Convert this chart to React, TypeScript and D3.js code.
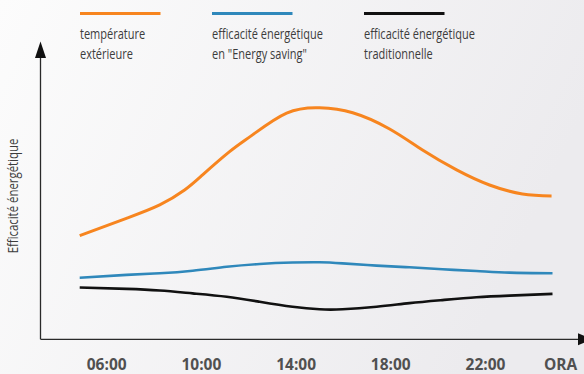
import React from "react";
import * as d3 from "d3";

const W = 584;
const H = 374;

const tickHours = [6, 10, 14, 18, 22];
const tickLabels = ["06:00", "10:00", "14:00", "18:00", "22:00"];
const axisTitleX = "ORA";
const axisTitleY = "Efficacité énergétique";

const tempHours = [4.86, 6.83, 8.24, 9.29, 10.05, 11.19, 12.16, 13.6, 14.99, 16.39, 17.95, 19.34, 20.78, 22.17, 23.56, 24.79];
const tempValues = [36.9, 43.1, 47.9, 53.2, 58.6, 66.9, 72.9, 80.7, 82.6, 80.8, 75.0, 67.5, 60.4, 55.0, 51.8, 51.1];

const effHours = [4.86, 6.84, 8.24, 9.63, 11.07, 12.46, 13.85, 14.99, 15.96, 17.4, 18.79, 20.18, 21.62, 23.01, 24.83];
const savingValues = [21.9, 22.9, 23.5, 24.4, 25.8, 26.8, 27.3, 27.4, 27.0, 26.2, 25.6, 24.9, 24.3, 23.7, 23.5];
const traditionalValues = [18.4, 17.9, 17.3, 16.3, 15.1, 13.3, 11.5, 10.6, 10.6, 11.5, 12.8, 13.9, 14.9, 15.5, 16.1];

const seriesNames = [
  ["température", "extérieure"],
  ["efficacité énergétique", "en \"Energy saving\""],
  ["efficacité énergétique", "traditionnelle"],
];
const seriesColors = ["#f7851f", "#2f88bb", "#111111"];

const font = "'Open Sans', sans-serif";

export default function App() {
  const x = d3.scaleLinear().domain([6, 22]).range([106.7, 485.5]);
  const y = d3.scaleLinear().domain([0, 100]).range([339, 59]);
  const axisX0 = 40.5;
  const axisY0 = 339.3;

  const line = d3
    .line<[number, number]>()
    .x((d) => x(d[0]))
    .y((d) => y(d[1]))
    .curve(d3.curveNatural);

  const series = [
    tempHours.map((h, i) => [h, tempValues[i]] as [number, number]),
    effHours.map((h, i) => [h, savingValues[i]] as [number, number]),
    effHours.map((h, i) => [h, traditionalValues[i]] as [number, number]),
  ];
  const widths = [3, 2.6, 2.6];
  const legendX = [80, 212, 364];
  const sx = 0.76;

  return (
    <svg width={W} height={H} style={{ position: "absolute", left: 0, top: 0, display: "block" }}>
      <defs>
        <linearGradient id="bg" x1="0" y1="0" x2="1" y2="0.3">
          <stop offset="0" stopColor="#fcfcfc" />
          <stop offset="1" stopColor="#ecebee" />
        </linearGradient>
      </defs>
      <rect x={0} y={0} width={W} height={H} fill="url(#bg)" />

      {/* legend */}
      {seriesNames.map((nm, i) => (
        <g key={i}>
          <line x1={legendX[i]} x2={legendX[i] + 80.5} y1={13.5} y2={13.5} stroke={seriesColors[i]} strokeWidth={3} />
          <g transform={`translate(${legendX[i]},0) scale(${sx},1)`}>
            <text x={0} y={39} fontFamily={font} fontSize={14.5} fill="#3c3c3c">
              {nm[0]}
            </text>
            <text x={0} y={59.5} fontFamily={font} fontSize={14.5} fill="#3c3c3c">
              {nm[1]}
            </text>
          </g>
        </g>
      ))}

      {/* axes */}
      <line x1={axisX0} x2={axisX0} y1={axisY0} y2={56} stroke="#2a2a2a" strokeWidth={1.3} />
      <path d={`M${axisX0},41.5 L${axisX0 - 5.5},58 L${axisX0 + 5.5},58 Z`} fill="#111" />
      <line x1={axisX0} x2={580} y1={axisY0} y2={axisY0} stroke="#2a2a2a" strokeWidth={1.3} />
      <path d={`M592,${axisY0} L578,${axisY0 - 6} L578,${axisY0 + 6} Z`} fill="#111" />

      <text
        transform={`translate(18,196) rotate(-90) scale(${sx},1)`}
        textAnchor="middle"
        fontFamily={font}
        fontSize={15}
        fill="#3c3c3c"
      >
        {axisTitleY}
      </text>

      {tickHours.map((h, i) => (
        <text
          key={h}
          x={x(h)}
          y={369.5}
          textAnchor="middle"
          fontFamily={font}
          fontWeight={700}
          fontSize={15.5}
          fill="#505050"
        >
          {tickLabels[i]}
        </text>
      ))}
      <text
        x={x(25.17)}
        y={369.5}
        textAnchor="middle"
        fontFamily={font}
        fontWeight={700}
        fontSize={15.5}
        fill="#505050"
      >
        {axisTitleX}
      </text>

      {/* lines */}
      {series.map((s, i) => (
        <path key={i} d={line(s) || ""} fill="none" stroke={seriesColors[i]} strokeWidth={widths[i]} />
      ))}
    </svg>
  );
}
